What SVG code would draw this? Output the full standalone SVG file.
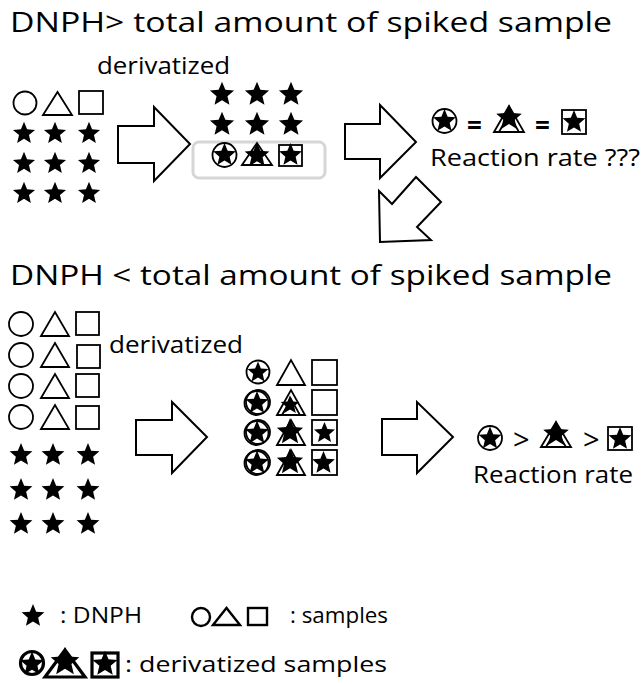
<svg xmlns="http://www.w3.org/2000/svg" xmlns:xlink="http://www.w3.org/1999/xlink" width="643" height="684" viewBox="0 0 643 684">
  <style>
    text { font-family: "Open Sans", "Liberation Sans", sans-serif; fill: #000; }
    .title { font-size: 27px; }
    .label { font-size: 23px; }
    .rate { font-size: 24px; }
    .legend { font-size: 22px; }
    .eq { font-size: 26px; font-weight: bold; }
    .gt { font-size: 29px; }
    .ring { fill: none; stroke: #000; stroke-width: 1.8; }
    .bold { fill: none; stroke: #000; stroke-width: 3.2; }
    .arrow { fill: #fff; stroke: #000; stroke-width: 2; stroke-linejoin: miter; }
    .box { fill: none; stroke: #d6d6d6; stroke-width: 3; }
  </style>
  <defs>
    <!-- filled five-point star, outer radius 12, centred on the origin -->
    <path id="star" d="M0,-12 L3.17,-4.37 L11.41,-3.71 L5.14,1.67 L7.05,9.71 L0,5.4 L-7.05,9.71 L-5.14,1.67 L-11.41,-3.71 L-3.17,-4.37 Z" fill="#000"/>
  </defs>

  <rect width="643" height="684" fill="#fff"/>

  <!-- headings -->
  <g id="title-excess">
    <text class="title" x="10" y="32" textLength="602" lengthAdjust="spacingAndGlyphs">DNPH&gt; total amount of spiked sample</text>
  </g>
  <g id="title-shortage">
    <text class="title" x="10" y="285" textLength="602" lengthAdjust="spacingAndGlyphs">DNPH &lt; total amount of spiked sample</text>
  </g>

  <!-- case 1: starting mixture -->
  <g id="mix-excess">
    <circle class="ring" cx="25" cy="103" r="11.5"/>
    <polygon class="ring" points="43,115 57.5,92 72,115"/>
    <rect class="ring" x="79" y="91" width="24" height="23"/>
    <use xlink:href="#star" transform="translate(24,133.5) scale(0.97)"/>
    <use xlink:href="#star" transform="translate(55,133.5) scale(0.97)"/>
    <use xlink:href="#star" transform="translate(89,133.5) scale(0.97)"/>
    <use xlink:href="#star" transform="translate(24,163.5) scale(0.97)"/>
    <use xlink:href="#star" transform="translate(55,163.5) scale(0.97)"/>
    <use xlink:href="#star" transform="translate(89,163.5) scale(0.97)"/>
    <use xlink:href="#star" transform="translate(24,193.5) scale(0.97)"/>
    <use xlink:href="#star" transform="translate(55,193.5) scale(0.97)"/>
    <use xlink:href="#star" transform="translate(89,193.5) scale(0.97)"/>
  </g>

  <g id="label-derivatized-1">
    <text class="label" x="97" y="74" textLength="133" lengthAdjust="spacingAndGlyphs">derivatized</text>
  </g>

  <!-- case 1: after derivatization -->
  <g id="result-excess">
    <use xlink:href="#star" transform="translate(222,94.5) scale(1.06)"/>
    <use xlink:href="#star" transform="translate(257,94.5) scale(1.06)"/>
    <use xlink:href="#star" transform="translate(291,94.5) scale(1.06)"/>
    <use xlink:href="#star" transform="translate(222,124.5) scale(1.06)"/>
    <use xlink:href="#star" transform="translate(257,124.5) scale(1.06)"/>
    <use xlink:href="#star" transform="translate(291,124.5) scale(1.06)"/>
    <rect class="box" x="193" y="142" width="132" height="36" rx="6"/>
    <circle class="ring" cx="224.5" cy="155" r="12"/>
    <use xlink:href="#star" transform="translate(224.5,155) scale(1)"/>
    <polygon class="ring" points="242,165 257,143 272,165"/>
    <use xlink:href="#star" transform="translate(257,155.5) scale(1.08)"/>
    <rect class="ring" x="279" y="145" width="23" height="21"/>
    <use xlink:href="#star" transform="translate(290.5,155) scale(1)"/>
  </g>

  <!-- case 1: equal reaction rates -->
  <g id="rate-equal">
    <circle class="ring" cx="444.5" cy="121" r="12"/>
    <use xlink:href="#star" transform="translate(444.5,121) scale(1)"/>
    <text class="eq" x="467" y="135">=</text>
    <polygon class="ring" points="494,132 509,106 524,132"/>
    <polygon class="ring" points="499,132 509,114 519,132"/>
    <use xlink:href="#star" transform="translate(509,118) scale(1.12)"/>
    <text class="eq" x="535" y="135">=</text>
    <rect class="ring" x="562" y="110" width="24" height="24"/>
    <use xlink:href="#star" transform="translate(574,122) scale(1)"/>
    <text class="rate" x="430" y="166" textLength="210" lengthAdjust="spacingAndGlyphs">Reaction rate ???</text>
  </g>

  <!-- case 2: starting mixture -->
  <g id="mix-shortage">
    <circle class="ring" cx="21" cy="324" r="12"/>
    <circle class="ring" cx="21" cy="355" r="12"/>
    <circle class="ring" cx="21" cy="386" r="12"/>
    <circle class="ring" cx="21" cy="417" r="12"/>
    <polygon class="ring" points="41,336 55,312 69,336"/>
    <polygon class="ring" points="41,367 55,343 69,367"/>
    <polygon class="ring" points="41,398 55,374 69,398"/>
    <polygon class="ring" points="41,429 55,405 69,429"/>
    <rect class="ring" x="76" y="312" width="23" height="23"/>
    <rect class="ring" x="77" y="345" width="23" height="23"/>
    <rect class="ring" x="76" y="374" width="23" height="23"/>
    <rect class="ring" x="76" y="406" width="23" height="23"/>
    <use xlink:href="#star" transform="translate(21,455) scale(1)"/>
    <use xlink:href="#star" transform="translate(53,455) scale(1)"/>
    <use xlink:href="#star" transform="translate(88,455) scale(1)"/>
    <use xlink:href="#star" transform="translate(21,490) scale(1)"/>
    <use xlink:href="#star" transform="translate(53,490) scale(1)"/>
    <use xlink:href="#star" transform="translate(88,490) scale(1)"/>
    <use xlink:href="#star" transform="translate(21,524) scale(1)"/>
    <use xlink:href="#star" transform="translate(53,524) scale(1)"/>
    <use xlink:href="#star" transform="translate(88,524) scale(1)"/>
  </g>

  <g id="label-derivatized-2">
    <text class="label" x="109" y="353" textLength="134" lengthAdjust="spacingAndGlyphs">derivatized</text>
  </g>

  <!-- case 2: after derivatization -->
  <g id="result-shortage">
    <!-- row 1 -->
    <circle class="ring" cx="258" cy="372" r="11.5"/>
    <use xlink:href="#star" transform="translate(258,372.5) scale(0.92)"/>
    <polygon class="ring" points="277,385 291,360 305,385"/>
    <rect class="ring" x="312" y="360" width="25" height="25"/>
    <!-- row 2 -->
    <circle class="ring" cx="258" cy="402" r="12"/>
    <circle class="ring" cx="256.5" cy="403" r="12"/>
    <use xlink:href="#star" transform="translate(257,403) scale(1)"/>
    <polygon class="ring" points="277,415 291,390 305,415"/>
    <polygon class="ring" points="282,415 291,399 300,415"/>
    <use xlink:href="#star" transform="translate(290,405) scale(0.82)"/>
    <rect class="ring" x="312" y="390" width="25" height="25"/>
    <!-- row 3 -->
    <circle class="ring" cx="258" cy="432" r="12"/>
    <circle class="ring" cx="256.5" cy="433" r="12"/>
    <use xlink:href="#star" transform="translate(257,433) scale(1.04)"/>
    <polygon class="ring" points="277,445 291,420 305,445"/>
    <use xlink:href="#star" transform="translate(290,432) scale(1.15)"/>
    <rect class="ring" x="312" y="420" width="25" height="25"/>
    <use xlink:href="#star" transform="translate(324.5,433) scale(0.92)"/>
    <!-- row 4 -->
    <circle class="ring" cx="258" cy="462" r="12"/>
    <circle class="ring" cx="256.5" cy="463" r="12"/>
    <use xlink:href="#star" transform="translate(257,463) scale(1.04)"/>
    <polygon class="ring" points="277,475 291,450 305,475"/>
    <use xlink:href="#star" transform="translate(290,462) scale(1.15)"/>
    <rect class="ring" x="312" y="450" width="25" height="25"/>
    <use xlink:href="#star" transform="translate(323.5,463) scale(1)"/>
  </g>

  <!-- case 2: ordered reaction rates -->
  <g id="rate-ordered">
    <circle class="ring" cx="490" cy="438" r="12"/>
    <use xlink:href="#star" transform="translate(490,438.5) scale(1)"/>
    <text class="gt" x="513" y="450">&gt;</text>
    <polygon class="ring" points="541,447 556,422 571,447"/>
    <polygon class="ring" points="546,447 556,430 566,447"/>
    <use xlink:href="#star" transform="translate(556,434) scale(1.12)"/>
    <text class="gt" x="583" y="450">&gt;</text>
    <rect class="ring" x="608" y="427" width="24" height="23"/>
    <use xlink:href="#star" transform="translate(620,439) scale(1)"/>
    <text class="rate" x="473" y="483" textLength="160" lengthAdjust="spacingAndGlyphs">Reaction rate</text>
  </g>

  <!-- legend -->
  <g id="legend-dnph">
    <use xlink:href="#star" transform="translate(33,616) scale(1)"/>
    <text class="legend" x="60" y="623" textLength="82" lengthAdjust="spacingAndGlyphs">: DNPH</text>
  </g>
  <g id="legend-samples">
    <circle class="ring" cx="201" cy="617" r="9" style="stroke-width:2.4"/>
    <polygon class="ring" points="213,625 226.5,608 240,625" style="stroke-width:2.4"/>
    <rect class="ring" x="248" y="608" width="19" height="17" style="stroke-width:2.4"/>
    <text class="legend" x="290" y="623" textLength="98" lengthAdjust="spacingAndGlyphs">: samples</text>
  </g>
  <g id="legend-derivatized">
    <circle class="bold" cx="32" cy="663" r="11.5"/>
    <use xlink:href="#star" transform="translate(32,664) scale(1.05)"/>
    <polygon class="bold" points="45,677 65,650 85,677"/>
    <use xlink:href="#star" transform="translate(65,662) scale(1.25)"/>
    <rect class="bold" x="92" y="653" width="26" height="24"/>
    <use xlink:href="#star" transform="translate(105,664) scale(1.1)"/>
    <text class="legend" x="125" y="672" textLength="262" lengthAdjust="spacingAndGlyphs">: derivatized samples</text>
  </g>

  <!-- block arrows -->
  <g id="connectors">
    <polygon class="arrow" points="118,126 154,126 154,107 190,144 154,181 154,163 118,163"/>
    <polygon class="arrow" points="345,124 380,124 380,105 416,142 380,178 380,159 345,159"/>
    <polygon class="arrow" points="392,204 416,177 441,202 417,227 431,240 380,242 379,191"/>
    <polygon class="arrow" points="136,420 172,420 172,402 207,437 172,473 172,455 136,455"/>
    <polygon class="arrow" points="382,419 417,419 417,402 453,437 417,473 417,455 382,455"/>
  </g>
</svg>
